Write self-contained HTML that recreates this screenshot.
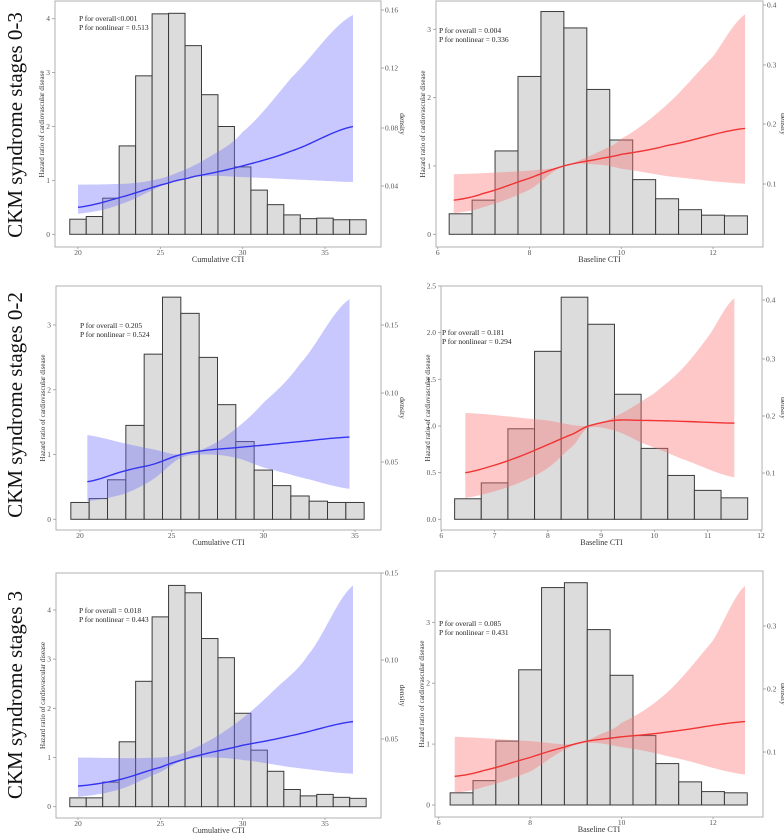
<!DOCTYPE html>
<html><head><meta charset="utf-8"><style>
html,body{margin:0;padding:0;background:#fff;}
svg{display:block;font-family:"Liberation Serif",serif;}
</style></head><body>
<svg id="fig" width="784" height="835" viewBox="0 0 784 835"></svg>
<script>
// ---------- data ----------
const p1Bars=[0.28,0.33,0.67,1.64,2.94,4.09,4.1,3.5,2.59,2.0,1.25,0.82,0.55,0.36,0.29,0.3,0.27,0.27];
const p1CurveX=[20,22.5,25.5,27,30,33,36.7];
const p1Curve=[0.5,0.68,0.95,1.07,1.27,1.55,2.0];
const p1UpX=[20,23,24.5,26,28,30,33,36.7];
const p1Up=[0.92,0.94,1.0,1.14,1.44,1.9,2.92,4.07];
const p1LoX=[20,22.5,26,28,30,33,36.7];
const p1Lo=[0.38,0.55,1.0,1.08,1.06,1.02,0.97];

const p2Bars=[0.3,0.5,1.22,2.31,3.26,3.02,2.12,1.38,0.8,0.52,0.36,0.28,0.27];
const p2CurveX=[6.35,7,8,8.75,9.5,10,11,12.7];
const p2Curve=[0.5,0.6,0.82,1.0,1.1,1.17,1.3,1.55];
const p2UpX=[6.35,8,8.75,9.5,10,11,12,12.7];
const p2Up=[0.88,0.93,1.0,1.2,1.4,1.9,2.6,3.22];
const p2LoX=[6.35,7,8,8.75,9.5,10,11,12.7];
const p2Lo=[0.31,0.4,0.65,1.0,1.02,0.96,0.85,0.74];

const p3Bars=[0.26,0.32,0.61,1.45,2.55,3.43,3.18,2.5,1.77,1.2,0.76,0.52,0.36,0.28,0.26,0.26];
const p3CurveX=[20.4,22.5,24,25.5,27,29,32,34.7];
const p3Curve=[0.58,0.75,0.85,1.0,1.07,1.12,1.2,1.27];
const p3UpX=[20.4,22.5,24,25.5,27,28.5,30,32,34.7];
const p3Up=[1.3,1.17,1.08,1.0,1.12,1.4,1.8,2.4,3.4];
const p3LoX=[20.4,22.5,24,25.5,27,28.5,30,32,34.7];
const p3Lo=[0.28,0.4,0.62,0.95,1.0,0.95,0.8,0.65,0.47];

const p4Bars=[0.22,0.39,0.97,1.8,2.38,2.09,1.34,0.76,0.47,0.31,0.23];
const p4CurveX=[6.45,7,7.5,8,8.5,8.75,9.25,9.75,10.5,11.5];
const p4Curve=[0.5,0.58,0.68,0.8,0.92,1.0,1.06,1.06,1.05,1.03];
const p4UpX=[6.45,8,8.75,9.25,10,10.5,11,11.5];
const p4Up=[1.14,1.06,1.0,1.1,1.35,1.6,1.95,2.37];
const p4LoX=[6.45,7,7.5,8,8.5,8.75,9.25,9.75,10.5,11.5];
const p4Lo=[0.23,0.3,0.4,0.55,0.8,0.98,0.95,0.82,0.65,0.45];

const p5Bars=[0.18,0.18,0.5,1.32,2.55,3.86,4.5,4.35,3.42,3.03,1.9,1.15,0.72,0.35,0.22,0.25,0.19,0.17];
const p5CurveX=[20,22.5,25,26.5,28,30,33,36.7];
const p5Curve=[0.42,0.55,0.8,0.97,1.1,1.25,1.45,1.73];
const p5UpX=[20,24,26,28,30,32,34,36.7];
const p5Up=[1.0,0.99,1.05,1.35,1.8,2.4,3.1,4.5];
const p5LoX=[20,22.5,25,26.5,28,30,33,36.7];
const p5Lo=[0.2,0.35,0.7,0.95,1.0,0.95,0.8,0.67];

const p6Bars=[0.2,0.4,1.05,2.22,3.57,3.65,2.88,2.13,1.14,0.68,0.38,0.22,0.2];
const p6CurveX=[6.35,7,8,8.75,9.25,10,11,12.7];
const p6Curve=[0.47,0.57,0.78,0.95,1.05,1.12,1.2,1.37];
const p6UpX=[6.35,8,9,9.5,10,11,12,12.7];
const p6Up=[1.12,1.05,1.0,1.15,1.35,1.85,2.7,3.6];
const p6LoX=[6.35,7,8,8.75,9.25,10,11,12.7];
const p6Lo=[0.2,0.3,0.55,0.9,1.02,0.95,0.8,0.5];

const xTicksCum=[20,25,30,35];
const xTicksBase=[6,8,10,12];
const xTicksBase4=[6,7,8,9,10,11,12];
const yTicks4=[0,1,2,3,4];
const yTicks3=[0,1,2,3];
const yTicks25=[0,0.5,1.0,1.5,2.0,2.5];
const rTicks1=["0.16","0.12","0.08","0.04"];
const rTicks2=["0.4","0.3","0.2","0.1"];
const rTicks3=["0.15","0.10","0.05"];
const rTicks6=["0.3","0.2","0.1"];
const pTexts=[["P for overall<0.001","P for nonlinear = 0.513"],["P for overall = 0.004","P for nonlinear = 0.336"],["P for overall = 0.205","P for nonlinear = 0.524"],["P for overall = 0.181","P for nonlinear = 0.294"],["P for overall = 0.018","P for nonlinear = 0.443"],["P for overall = 0.085","P for nonlinear = 0.431"]];

// ---------- layout ----------
const panels=[
 {bars:p1Bars,b0:19.5,bw:1,cx:p1CurveX,cy:p1Curve,ux:p1UpX,uy:p1Up,lx:p1LoX,ly:p1Lo,xt:xTicksCum,yt:yTicks4,yd:0,rt:rTicks1,rtY:[10,68,128,186],
  fr:[55,1,381,247],x0:20,px0:78,x1:35,px1:325,y0v:0,py0:234.3,y1v:4,py1:18.7,col:"blue",pt:[79,21],xl:"Cumulative CTI",dx:400},
 {bars:p2Bars,b0:6.25,bw:0.5,cx:p2CurveX,cy:p2Curve,ux:p2UpX,uy:p2Up,lx:p2LoX,ly:p2Lo,xt:xTicksBase,yt:yTicks3,yd:0,rt:rTicks2,rtY:[5,65,124,184],
  fr:[436,1,763,247],x0:6,px0:437.7,x1:12,px1:713,y0v:0,py0:234.3,y1v:3,py1:29.3,col:"red",pt:[439,33],xl:"Baseline CTI",dx:781},
 {bars:p3Bars,b0:19.5,bw:1,cx:p3CurveX,cy:p3Curve,ux:p3UpX,uy:p3Up,lx:p3LoX,ly:p3Lo,xt:xTicksCum,yt:yTicks3,yd:0,rt:rTicks3,rtY:[325,393,462],
  fr:[56,286,381,530],x0:20,px0:80,x1:35,px1:355,y0v:0,py0:519.3,y1v:3,py1:325,col:"blue",pt:[80,328],xl:"Cumulative CTI",dx:400},
 {bars:p4Bars,b0:6.25,bw:0.5,cx:p4CurveX,cy:p4Curve,ux:p4UpX,uy:p4Up,lx:p4LoX,ly:p4Lo,xt:xTicksBase4,yt:yTicks25,yd:1,rt:rTicks2,rtY:[300,359,416,473],
  fr:[441,286,762,530],x0:6,px0:441.3,x1:12,px1:761,y0v:0,py0:519.3,y1v:2.5,py1:286,col:"red",pt:[442,335],xl:"Baseline CTI",dx:781},
 {bars:p5Bars,b0:19.5,bw:1,cx:p5CurveX,cy:p5Curve,ux:p5UpX,uy:p5Up,lx:p5LoX,ly:p5Lo,xt:xTicksCum,yt:yTicks4,yd:0,rt:rTicks3,rtY:[573,660,739],
  fr:[56,573,381,818],x0:20,px0:78,x1:35,px1:325,y0v:0,py0:806.7,y1v:4,py1:610,col:"blue",pt:[79,613],xl:"Cumulative CTI",dx:400},
 {bars:p6Bars,b0:6.25,bw:0.5,cx:p6CurveX,cy:p6Curve,ux:p6UpX,uy:p6Up,lx:p6LoX,ly:p6Lo,xt:xTicksBase,yt:yTicks3,yd:0,rt:rTicks6,rtY:[626,689,752],
  fr:[435,571,763,817],x0:6,px0:438.7,x1:12,px1:713,y0v:0,py0:805,y1v:3,py1:622.3,col:"red",pt:[439,626],xl:"Baseline CTI",dx:781}
];
const rowLabels=[["CKM syndrome stages 0-3",125],["CKM syndrome stages 0-2",405],["CKM syndrome stages 3",695]];

const NS="http://www.w3.org/2000/svg";
const svg=document.getElementById('fig');
function mk(tag,attrs,parent){const e=document.createElementNS(NS,tag);for(const k in attrs)e.setAttribute(k,attrs[k]);(parent||svg).appendChild(e);return e;}
function interp(xs,ys,x){
  let i=0;while(i<xs.length-2&&x>xs[i+1])i++;
  const x1=xs[i],x2=xs[i+1],t=(x-x1)/(x2-x1);
  const y0=ys[Math.max(i-1,0)],y1=ys[i],y2=ys[i+1],y3=ys[Math.min(i+2,ys.length-1)];
  const t2=t*t,t3=t2*t;
  return 0.5*((2*y1)+(-y0+y2)*t+(2*y0-5*y1+4*y2-y3)*t2+(-y0+3*y1-3*y2+y3)*t3);
}

rowLabels.forEach(([txt,cy])=>{
  const t=mk('text',{x:22,y:cy,'font-size':21,'text-anchor':'middle',fill:'#111',transform:`rotate(-90 22 ${cy})`});
  
  
  t.textContent=txt;
});

panels.forEach((p,pi)=>{
  const g=mk('g',{});
  
  
  const sx=v=>p.px0+(v-p.x0)*(p.px1-p.px0)/(p.x1-p.x0);
  const sy=v=>p.py0+(v-p.y0v)*(p.py1-p.py0)/(p.y1v-p.y0v);
  const [fl,ft,fr,fb]=p.fr;
  const frame=mk('rect',{x:fl,y:ft,width:fr-fl,height:fb-ft,fill:'none',stroke:'#b0b0b0','stroke-width':1},g);
  
  
  p.bars.forEach((h,i)=>{
    const xa=sx(p.b0+i*p.bw),xb=sx(p.b0+(i+1)*p.bw);
    const r=mk('rect',{x:xa,y:sy(h),width:xb-xa,height:sy(0)-sy(h),fill:'#dcdcdc',stroke:'#3a3a3a','stroke-width':1},g);
    
    
  });
  const N=80;let up=[],lo=[];
  const xs0=Math.min(p.ux[0],p.lx[0]),xs1=Math.max(p.ux[p.ux.length-1],p.lx[p.lx.length-1]);
  for(let k=0;k<=N;k++){const x=xs0+(xs1-xs0)*k/N;up.push([sx(x),sy(interp(p.ux,p.uy,x))]);lo.push([sx(x),sy(interp(p.lx,p.ly,x))]);}
  const band=mk('path',{d:'M'+up.map(q=>q.join(',')).join('L')+'L'+lo.reverse().map(q=>q.join(',')).join('L')+'Z',
    fill:p.col==='blue'?'rgba(110,110,255,0.38)':'rgba(255,110,110,0.38)',stroke:'none'},g);
  
  
  let pts=[];
  const c0=p.cx[0],c1=p.cx[p.cx.length-1];
  for(let k=0;k<=N;k++){const x=c0+(c1-c0)*k/N;pts.push(sx(x)+','+sy(interp(p.cx,p.cy,x)));}
  const line=mk('path',{d:'M'+pts.join('L'),fill:'none',stroke:p.col==='blue'?'#3434f0':'#f03434','stroke-width':1.4},g);
  
  
  p.yt.forEach(v=>{
    const y=sy(v);
    mk('line',{x1:fl-3,x2:fl,y1:y,y2:y,stroke:'#999','stroke-width':0.8},g);
    const t=mk('text',{x:fl-5,y:y+2.5,'font-size':7.5,'text-anchor':'end',fill:'#555'},g);
    
    
    t.textContent=p.yd?v.toFixed(1):String(v);
  });
  p.xt.forEach(v=>{
    const x=sx(v);
    mk('line',{x1:x,x2:x,y1:fb,y2:fb+2,stroke:'#999','stroke-width':0.8},g);
    const t=mk('text',{x:x,y:fb+8,'font-size':7.5,'text-anchor':'middle',fill:'#555'},g);
    
    
    t.textContent=String(v);
  });
  p.rt.forEach((lab,i)=>{
    const y=p.rtY[i];
    mk('line',{x1:fr,x2:fr+3,y1:y,y2:y,stroke:'#999','stroke-width':0.8},g);
    const t=mk('text',{x:fr+4,y:y+2.5,'font-size':7.5,fill:'#555'},g);
    
    
    t.textContent=lab;
  });
  const xt=mk('text',{x:(fl+fr)/2,y:fb+15,'font-size':8,'text-anchor':'middle',fill:'#333'},g);
  
  
  xt.textContent=p.xl;
  const yc=(ft+fb)/2,yx=fl-11;
  const yt=mk('text',{x:yx,y:yc,'font-size':7,'text-anchor':'middle',fill:'#333',transform:`rotate(-90 ${yx} ${yc})`},g);
  
  
  yt.textContent='Hazard ratio of cardiovascular disease';
  const dt=mk('text',{x:p.dx,y:yc,'font-size':7.5,'text-anchor':'middle',fill:'#333',transform:`rotate(90 ${p.dx} ${yc})`},g);
  
  
  dt.textContent='density';
  pTexts[pi].forEach((s,i)=>{
    const t=mk('text',{x:p.pt[0],y:p.pt[1]+i*9,'font-size':7.5,fill:'#222'},g);
    
    
    t.textContent=s;
  });
});
</script>
</body></html>
